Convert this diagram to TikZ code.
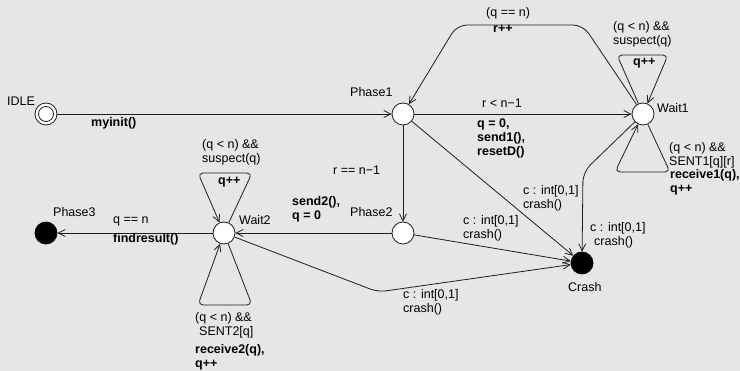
\documentclass[tikz,border=0pt]{standalone}
\usepackage{fontspec}
\setmainfont{Liberation Sans}
\usetikzlibrary{arrows.meta}
\definecolor{bg}{RGB}{230,230,230}
\definecolor{ln}{RGB}{30,30,30}
\begin{document}
\begin{tikzpicture}[x=1pt,y=-1pt,
  state/.style={circle,draw=ln,fill=white,minimum size=22pt,inner sep=0pt,line width=0.8pt},
  fstate/.style={circle,draw=black,fill=black,minimum size=22pt,inner sep=0pt,line width=0.8pt},
  arr/.style={draw=ln,line width=0.8pt,-{Straight Barb[length=7pt,width=7pt]}},
  lbl/.style={anchor=base west,inner sep=0pt,align=left,font=\fontsize{12.5}{14}\selectfont},
  blbl/.style={lbl,font=\fontsize{12.5}{14}\selectfont\bfseries},
]
\fill[bg] (0,0) rectangle (740,371);
\useasboundingbox (0,0) rectangle (740,371);

% states
\node[state] (idle) at (46,114) {};
\draw[ln,line width=0.8pt] (idle.center) circle[radius=7.5];
\node[state] (phase1) at (403,114) {};
\node[state] (wait1) at (643,114) {};
\node[state] (phase2) at (403,233) {};
\node[state] (wait2) at (224,233) {};
\node[fstate] (phase3) at (46,233) {};
\node[fstate] (crash) at (582,263) {};

% state names
\node[lbl] (nIdle) at (7,106) {IDLE};
\node[lbl] (nPhase1) at (350,97) {Phase1};
\node[lbl] (nWait1) at (657,113) {Wait1};
\node[lbl] (nPhase2) at (350,217) {Phase2};
\node[lbl] (nWait2) at (239,225) {Wait2};
\node[lbl] (nPhase3) at (53,217) {Phase3};
\node[lbl] (nCrash) at (568,292) {Crash};

% edges
\draw[arr] (idle) -- (phase1);
\draw[arr] (phase1) -- (wait1);
\draw[arr,rounded corners=10pt] (wait1) -- (583,25) -- (457,25) -- (phase1);
\draw[arr,rounded corners=5pt] (wait1) -- (617,55) -- (668,55) -- (wait1);
\draw[arr,rounded corners=5pt] (wait1) -- (670,172) -- (615,172) -- (wait1);
\draw[arr,rounded corners=10pt] (wait1) -- (583,172) -- (crash);
\draw[arr] (phase1) -- (crash);
\draw[arr] (phase1) -- (phase2);
\draw[arr] (phase2) -- (wait2);
\draw[arr] (phase2) -- (crash);
\draw[arr,rounded corners=8pt] (wait2) -- (378,292) -- (crash);
\draw[arr] (wait2) -- (phase3);
\draw[arr,rounded corners=5pt] (wait2) -- (252,173) -- (198,173) -- (wait2);
\draw[arr,rounded corners=5pt] (wait2) -- (252,305) -- (198,305) -- (wait2);

% edge labels (multi-line nodes: base = last line)
\node[blbl] (lInit) at (91,127) {myinit()};
\node[lbl] (lR1) at (482,108) {r < n−1};
\node[blbl] (lSend1) at (477,156) {q = 0,\\send1(),\\resetD()};
\node[lbl] (lQn) at (486,17) {(q == n)};
\node[blbl] (lRpp) at (493,33) {r++};
\node[lbl] (lW1g) at (613,45) {(q < n) \&\&\\suspect(q)};
\node[blbl] (lW1u) at (633,66) {q++};
\node[lbl] (lW1g2) at (669,166) {(q < n) \&\&\\SENT1[q][r]};
\node[blbl] (lW1u2) at (670,193) {receive1(q),\\q++};
\node[lbl] (lR2) at (333,175) {r == n−1};
\node[blbl] (lSend2) at (292,220) {send2(),\\q = 0};
\node[lbl] (lC1) at (523,209) {c : int[0,1]\\crash()};
\node[lbl] (lC2) at (463,239) {c : int[0,1]\\crash()};
\node[lbl] (lC3) at (590,246) {c : int[0,1]\\\hspace*{4pt}crash()};
\node[lbl] (lC4) at (403,313) {c : int[0,1]\\crash()};
\node[lbl] (lQn2) at (113,224) {q == n};
\node[blbl] (lFind) at (113,243) {findresult()};
\node[lbl] (lW2g) at (202,163) {(q < n) \&\&\\suspect(q)};
\node[blbl] (lW2u) at (218,185) {q++};
\node[lbl] (lW2g2) at (195,336) {(q < n) \&\&\\\hspace*{4pt}SENT2[q]};
\node[blbl] (lW2u2) at (195,368) {receive2(q),\\q++};
\end{tikzpicture}
\end{document}
